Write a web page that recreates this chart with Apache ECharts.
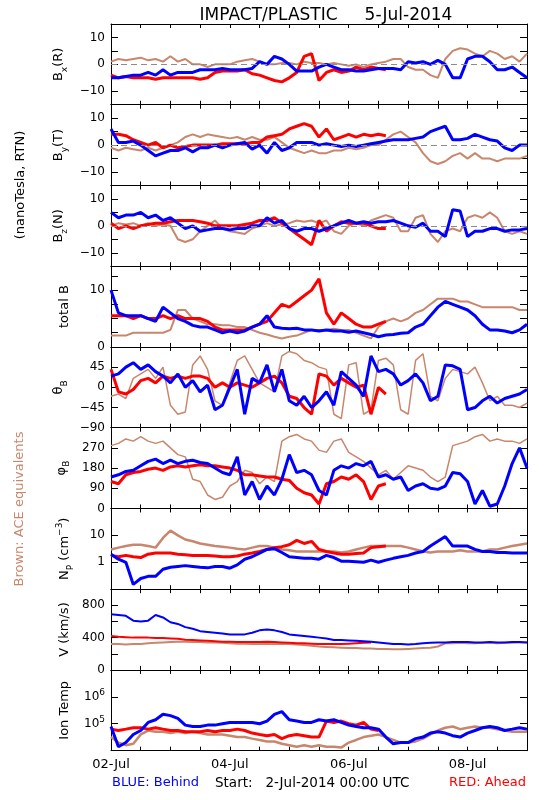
<!DOCTYPE html>
<html><head><meta charset="utf-8">
<script src="https://cdn.jsdelivr.net/npm/echarts@6/dist/echarts.min.js"></script>
<style>html,body{margin:0;padding:0;background:#fff;}#c{width:550px;height:800px;}</style>
</head><body><div id="c"></div>
<script>
// sampling step of the series below: 3 hours, starting 02-Jul-2014 00:00 UTC (x in days)
const STEP_DAYS = 3 / 24;
const dayLabels = ['02-Jul','03-Jul','04-Jul','05-Jul','06-Jul','07-Jul','08-Jul','09-Jul'];
const dayLabelShown = [0, 2, 4, 6];

// Bx (R), nT
const bxBlue = [-5,-5,-4.5,-4,-4,-3,-4,-2,-4,-3,-3,-3,-2,-2,-2,-1.5,-2,-2,-2,-1.5,1,0,3,2,0,-2.5,-2.5,-2.5,-1,0,-1,-2,-2,-2.5,-2.5,-2,-1.5,-1.5,-1.5,-2,1,0.5,1,0,1.5,0,-5,-5,2,3,3,1,-2,-2,-1,-3,-5];
const bxRed = [-4,-5,-4.5,-5,-5,-5,-5.5,-5,-5,-5,-5,-5,-5.5,-5,-3,-2.5,-2.5,-2.5,-2,-3.5,-4,-5,-6,-6.5,-5,-3,3,4,-6,-3,-2,-3,-2.5,-1,-2,-1,-1.5,-2];
const bxBrown = [1,2,1.5,2,2.5,1.5,2,1,3,1,2,0,0,-1,0,0,0,1,1.5,2,1,0,0,0.5,0.5,0,1,0.5,0.5,0,0.5,0,-0.5,0,-1,0,0.5,1,2,2,-1,-2,-2,-4,-5,2,5,6,5.5,4,3,5,4,2,3,1,4];
// By (T), nT
const byBlue = [6,1,1,1.5,0,-2,-4,-3,-2,-2,-1,-2.5,-1,-1,0,-1,0,0.5,1,-1.5,0,-3,1,-2,-1,1,1,1,0,0.5,0,-0.5,0,-0.5,0,0.5,1,1.5,2,2,2,2.5,3,5,6,7,2,2,2.5,4,3,2,1.5,-1,-2,0,0];
const byRed = [4,4,3.5,2,1,0,1,-1,0,-1,-0.5,0,0,0,0,0.5,0.5,0.5,0.5,1,1,3,3.5,4,6,7,8,7,3,6,2,3,4,3,4,3.5,4,3.5];
const byBrown = [-1,-2,-1,-1.5,-2,-1,-2,-1,0,1,3,4,3,4,3.5,3,2.5,3,2,3,2,2,3,1,-1,-2,-3,-2,-3,-3,-2,-2,-1,-1.5,-1,0,0,2,4,5,3,1,-3,-6,-7,-6,-4,-3,-5,-3,-5,-5,-6,-5,-5,-5,-4];
// Bz (N), nT
const bzBlue = [5,3,4,4,5,3,4,2,3,1,-1,0,-2,-1.5,-1,-1,-1.5,-1,-1,0,0,3,1,2,-1,-2,-1,-1,-2,-1,0,1,2,1,1.5,1,1.5,1.5,2,1,0,-0.5,1,-2,-2,-4,6,5.5,-4,-2,-2,-1,-1,-2,-1.5,-1.5,-1];
const bzRed = [1,-1,0,-1,0,0.5,1,1,1.5,2,2,2,1.5,1,0,0,0,0,0.5,1,2,2,3,1,-1,-3,-5,-7,2,-2,0,1.5,1,1,1,0,-1,-1];
const bzBrown = [0,1,0.5,1,0,1,0,0.5,0,-5,-6,-5,-2,0,2,-1,-2,-2.5,-3,-1,0,1,0,0.5,1,2,1.5,2,1,2,-2,-3,0,1,0,2,3,4,3,-2,-2,3,4,-3,-6,-2,-1,-2,3,4,3,5,3,-2,-3,-2,-3];
// total B, nT
const btBlue = [10,6,5.5,5.5,5.5,5,4.5,7,6,5,4.5,3.8,3.5,3.5,3,2.5,2.8,2.5,2.8,3.5,4,5.5,3.5,3.3,3.2,3.3,3,3,2.8,3,2.8,2.8,2.6,2.8,2.5,2.2,1.8,2.1,2.2,2.4,2.5,3.5,4,5.5,7,8,7.5,7,6.5,5.5,4,3,3,2.8,2.5,3,4];
const btRed = [5.5,5.5,5.5,5,5.5,5,5,5.5,5,5.5,5,5,5,4.5,3.5,3,3,3,3,3.5,4,4.5,6,7.5,7,8,9,10,12,6,4,6,5,4,3.5,3.5,4,4.5];
const btBrown = [2,2,2,2.5,2.5,2.5,2.5,2.5,3,6.5,6.5,5,4.5,4,4,3.8,3.8,3.5,3.5,3,2.5,2.2,1.8,1.5,1.8,2,2.5,3,3,3,3.2,3,3,2.5,2,1.5,3.5,4.5,5,4.5,5,6,6.5,7.5,8.5,8.5,8.5,8,8,7.5,7,7,7,7,7,6.5,6.5];
// theta_B, deg
const thBlue = [25,30,45,55,40,50,35,25,10,30,0,15,-10,5,-50,-40,0,40,-60,20,10,50,-10,40,-30,-40,-20,-45,-30,-10,-40,35,20,5,-20,70,35,40,30,5,15,30,10,-30,-20,50,48,40,-50,-45,-30,-20,-35,-25,-20,-15,-5];
const thRed = [40,-10,-15,-5,15,20,10,25,20,25,20,25,25,20,0,10,0,10,5,0,10,20,25,10,-20,-25,-45,-60,30,25,5,20,10,0,5,-60,0,-15];
const thBrown = [-20,-15,-25,20,30,40,20,45,-40,-60,-55,50,70,40,-30,-40,10,60,70,40,10,0,-10,70,80,75,60,55,45,40,-60,-70,50,55,-60,-50,60,65,50,-50,-60,60,75,-20,-30,20,40,35,30,45,10,-30,-20,-40,-40,-45,-35];
// phi_B, deg
const phBlue = [140,150,165,170,190,210,220,200,215,200,210,215,205,200,180,160,150,230,60,120,40,100,60,130,240,160,170,150,80,60,170,190,180,200,190,210,140,150,130,140,80,100,110,90,85,100,160,155,120,20,80,10,20,100,200,270,180];
const phRed = [120,110,150,160,165,175,180,170,185,190,185,190,195,190,190,185,180,170,150,150,145,140,140,130,125,90,70,60,20,110,120,140,130,150,120,40,100,110];
const phBrown = [280,290,310,300,320,300,290,300,270,240,230,130,120,60,40,50,100,120,170,160,110,140,120,300,320,330,310,300,260,250,300,310,250,230,210,180,150,170,130,160,190,180,170,140,120,140,280,290,300,320,330,300,310,300,300,290,310];
// Np, cm^-3
const npBlue = [2,1.3,1,0.15,0.25,0.3,0.3,0.55,0.65,0.7,0.75,0.7,0.65,0.62,0.7,0.7,0.6,0.8,1.3,1.6,2.2,3,3.2,2.3,1.6,1.5,1.4,1.4,1.3,1.8,1.5,1.1,1.1,1.05,1,1.2,1,1.2,1.4,1.6,1.8,2.2,2.5,4,6,9,4,4,4,3,2.5,2.5,2.3,2.3,2.2,2.2,2.2];
const npRed = [1.8,1.6,1.8,1.6,1.5,2,2.2,2.2,2.2,2,1.9,1.8,1.8,1.8,1.7,1.6,1.6,1.7,2,2.2,2.5,3,3.5,3.8,4.5,6.5,5,6,3,2.5,2.2,2,2,2.1,2.2,3.5,3.8,4];
const npBrown = [3,3.5,4,4.5,4.5,4,3.5,8,15,10,7,6,5,4.5,4,3.8,3.5,3.2,3,3.5,4,4,3.5,3,2.8,2.5,2.5,2.5,2.5,2.5,2.5,2.3,2.5,3,3.5,4,4,4,4,4,3.5,3,2.5,2.3,2.5,2.5,2.5,2.8,2.5,2.5,2.5,3,3,3.5,4,4.5,5];
// V, km/s
const vBlue = [690,680,670,610,600,610,680,650,590,570,530,510,480,470,460,450,440,440,440,460,490,500,490,470,440,430,420,410,400,390,370,370,365,360,355,350,340,330,320,320,315,320,330,335,340,340,345,345,345,340,340,345,340,340,345,345,340];
const vRed = [420,410,405,400,400,400,395,395,390,385,375,370,365,360,355,350,350,345,345,345,345,350,345,340,335,330,330,325,320,320,320,320,325,330,335,340];
const vBrown = [320,320,315,320,320,330,335,340,345,350,350,345,345,340,340,335,330,325,325,320,320,320,320,320,320,315,310,300,290,285,280,275,270,270,265,265,260,260,255,255,260,265,270,275,290,330,330,335,330,330,335,335,330,335,335,340,340];
// Ion temperature, K
const tBlue = [79e3,14e3,20e3,40e3,56e3,112e3,141e3,224e3,200e3,158e3,89e3,79e3,79e3,89e3,89e3,100e3,112e3,112e3,112e3,112e3,100e3,126e3,224e3,282e3,141e3,126e3,112e3,112e3,141e3,126e3,141e3,112e3,89e3,79e3,71e3,71e3,63e3,32e3,18e3,20e3,20e3,28e3,32e3,45e3,50e3,45e3,36e3,32e3,45e3,56e3,71e3,79e3,71e3,56e3,63e3,71e3,63e3];
const tRed = [63e3,56e3,63e3,71e3,71e3,63e3,71e3,63e3,56e3,56e3,50e3,50e3,50e3,56e3,50e3,56e3,56e3,63e3,56e3,45e3,40e3,36e3,40e3,28e3,36e3,40e3,36e3,32e3,32e3,126e3,112e3,126e3,100e3,89e3,112e3,63e3,56e3];
const tBrown = [32e3,20e3,16e3,18e3,40e3,56e3,50e3,50e3,45e3,50e3,45e3,50e3,45e3,40e3,40e3,40e3,36e3,32e3,32e3,28e3,25e3,22e3,22e3,18e3,16e3,14e3,16e3,14e3,16e3,14e3,14e3,13e3,20e3,25e3,32e3,36e3,40e3,32e3,25e3,20e3,20e3,22e3,28e3,40e3,56e3,71e3,79e3,63e3,71e3,79e3,71e3,71e3,63e3,56e3,50e3,50e3,50e3];

const FONT = 'DejaVu Sans';
const BLUE = '#0000ff', RED = '#ff0000', BROWN = '#c8876c';

const panels = [
  {name:'{b|B}{sub|x}{b|(R)}', min:-15, max:15, interval:5, labels:[-10,0,10], zero:true, w:[2,3,3], d:[bxBrown,bxRed,bxBlue]},
  {name:'{b|B}{sub|y}{b|(T)}', min:-15, max:15, interval:5, labels:[-10,0,10], zero:true, w:[2,3,3], d:[byBrown,byRed,byBlue]},
  {name:'{b|B}{sub|z}{b|(N)}', min:-15, max:15, interval:5, labels:[-10,0,10], zero:true, w:[2,3,3], d:[bzBrown,bzRed,bzBlue]},
  {name:'{b|total B}', min:0, max:14.2, interval:2.5, labels:[0,10], w:[2,3,3], d:[btBrown,btRed,btBlue]},
  {name:'{b|θ}{sub|B}', min:-90, max:90, interval:45, labels:[-90,-45,0,45], w:[1.5,3,3], d:[thBrown,thRed,thBlue]},
  {name:'{b|φ}{sub|B}', min:0, max:360, interval:90, labels:[0,90,180,270], w:[1.5,3,3], d:[phBrown,phRed,phBlue]},
  {name:'{b|N}{sub|P}{b| (cm}{sup|−3}{b|)}', log:true, min:0.1, max:100, labels:[1,10], w:[2.5,3,3], d:[npBrown,npRed,npBlue]},
  {name:'{b|V (km/s)}', min:0, max:1000, interval:200, labels:[0,400,800], w:[2,2,2], d:[vBrown,vRed,vBlue]},
  {name:'{b|Ion Temp}', log:true, min:1e4, max:1e7, labels:[1e5,1e6], pow:true, w:[2.5,3,3], d:[tBrown,tRed,tBlue]}
];

const TOP = 24, PH = 80.74, LEFT = 111, RIGHT = 23;
const richName = {
  b:{fontSize:13, fontFamily:FONT, color:'#000', lineHeight:20, verticalAlign:'middle'},
  sub:{fontSize:9, fontFamily:FONT, color:'#000', lineHeight:10, verticalAlign:'bottom'},
  sup:{fontSize:9, fontFamily:FONT, color:'#000', lineHeight:10, verticalAlign:'top'}
};
const richTick = {
  b:{fontSize:12, fontFamily:FONT, color:'#000', lineHeight:18, verticalAlign:'middle'},
  sup:{fontSize:9, fontFamily:FONT, color:'#000', lineHeight:10, verticalAlign:'top'}
};
const pts = arr => arr.map((v, i) => [i * STEP_DAYS, v]);
const isLabel = (labels, v) => labels.some(l => Math.abs(l - v) < 1e-6 * Math.max(1, Math.abs(l)));

const grids = [], xAxes = [], yAxes = [], series = [];
panels.forEach((p, i) => {
  grids.push({left: LEFT, right: RIGHT, top: TOP + PH * i, height: PH, containLabel:false, outerBoundsMode:'none'});
  const last = i === panels.length - 1;
  const xBase = {gridIndex:i, type:'value', min:0, max:7, interval:0.5,
    axisLine:{show:true, onZero:false, lineStyle:{color:'#000', width:1}},
    axisTick:{show:true, inside:true, length:4, lineStyle:{color:'#000'}},
    splitLine:{show:false}};
  xAxes.push(Object.assign({}, xBase, {position:'bottom',
    axisLabel:{show:last, margin:7, fontSize:13, fontFamily:FONT, color:'#000',
      formatter: v => (dayLabelShown.indexOf(v) >= 0 ? dayLabels[v] : '')}}));
  xAxes.push(Object.assign({}, xBase, {position:'top', axisLabel:{show:false}}));
  const yBase = {gridIndex:i, type: p.log ? 'log' : 'value', logBase:10, min:p.min, max:p.max,
    axisLine:{show:true, onZero:false, lineStyle:{color:'#000', width:1}},
    axisTick:{show:true, inside:true, length:7, lineStyle:{color:'#000'}},
    splitLine:{show:false}};
  if (!p.log) yBase.interval = p.interval;
  yAxes.push(Object.assign({}, yBase, {position:'left',
    name: p.name, nameLocation:'middle', nameRotate:90, nameGap:36,
    nameTextStyle:{rich: richName},
    axisLabel:{show:true, margin:6, fontSize:12, fontFamily:FONT, color:'#000', rich: richTick,
      showMinLabel:true, showMaxLabel:true,
      formatter: v => {
        if (!isLabel(p.labels, v)) return '';
        if (p.pow) return '{b|10}{sup|' + Math.round(Math.log10(v)) + '}';
        return String(v).replace('-', '−');
      }}}));
  yAxes.push(Object.assign({}, yBase, {position:'right', axisLabel:{show:false}}));
  const cols = [BROWN, RED, BLUE];
  p.d.forEach((arr, k) => {
    const s = {type:'line', xAxisIndex:2*i, yAxisIndex:2*i, data: pts(arr), showSymbol:false,
      symbol:'none', connectNulls:false, clip:true, z: 2 + k,
      lineStyle:{color: cols[k], width: p.w[k]}, emphasis:{disabled:true}};
    if (k === 0 && p.zero) {
      s.markLine = {silent:true, symbol:'none', label:{show:false}, animation:false,
        lineStyle:{color:'#8c8c8c', type:[6,4], width:1}, data:[{yAxis:0}]};
    }
    series.push(s);
  });
});

const chart = echarts.init(document.getElementById('c'), null, {renderer:'canvas'});
chart.setOption({
  animation:false,
  backgroundColor:'#fff',
  title:{text:'IMPACT/PLASTIC     5-Jul-2014', left:321, top:2, textAlign:'center',
    textStyle:{fontSize:17, fontWeight:'normal', fontFamily:FONT, color:'#000'}},
  grid: grids, xAxis: xAxes, yAxis: yAxes, series: series,
  graphic:[
    {type:'text', x:21, y:185, rotation:Math.PI/2, style:{text:'(nanoTesla, RTN)', fontSize:13, fontFamily:FONT, fill:'#000', align:'center', verticalAlign:'middle'}},
    {type:'text', x:20, y:509, rotation:Math.PI/2, style:{text:'Brown: ACE equivalents', fontSize:13, fontFamily:FONT, fill:BROWN, align:'center', verticalAlign:'middle'}},
    {type:'text', x:112, y:783, style:{text:'BLUE: Behind', fontSize:13, fontFamily:FONT, fill:BLUE, align:'left', verticalAlign:'middle'}},
    {type:'text', x:215, y:783, style:{text:'Start:   2-Jul-2014 00:00 UTC', fontSize:13.5, fontFamily:FONT, fill:'#000', align:'left', verticalAlign:'middle'}},
    {type:'text', x:526, y:783, style:{text:'RED: Ahead', fontSize:13, fontFamily:FONT, fill:RED, align:'right', verticalAlign:'middle'}}
  ]
});
</script>
</body></html>
